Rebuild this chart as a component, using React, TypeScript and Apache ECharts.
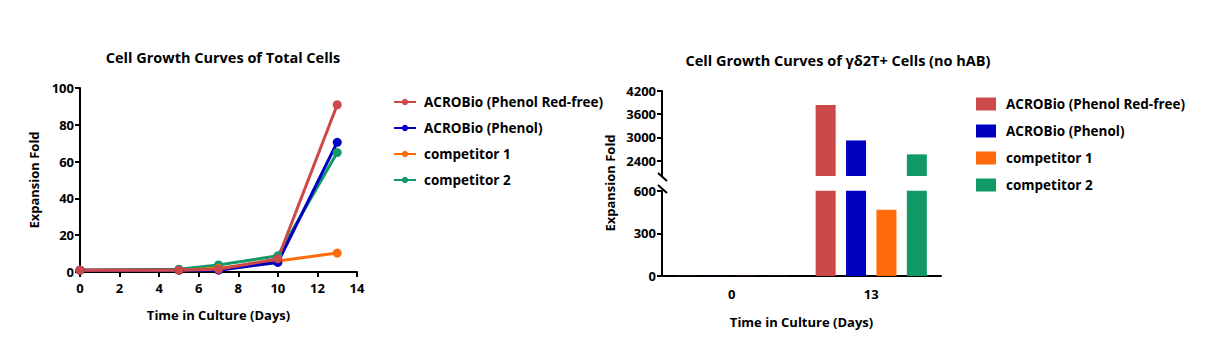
import React, { useEffect, useRef } from "react";
import * as echarts from "echarts";

const seriesNames = ["ACROBio (Phenol Red-free)", "ACROBio (Phenol)", "competitor 1", "competitor 2"];
const colors = ["#CD4848", "#0000C0", "#FF6A0A", "#119966"];

// Left chart: total cells
const days = [0, 5, 7, 10, 13];
const redFree = [1, 1, 1.5, 7.2, 90.9];
const phenol = [1, 1, 1, 5.2, 70.5];
const comp1 = [1, 1, 2, 6, 10.3];
const comp2 = [1, 1.5, 3.8, 8.8, 64.9];
const lineValues = [redFree, phenol, comp1, comp2];

// Right chart: γδ2T+ cells
const barCategories = ["0", "13"];
const barRedFree = [1, 3840];
const barPhenol = [1, 2920];
const barComp1 = [1, 466];
const barComp2 = [1, 2560];
const barValues = [barRedFree, barPhenol, barComp1, barComp2];
const lowerMax = 600;
const upperMin = 2000;
const upperMax = 4200;
const upperTicks = [2400, 3000, 3600, 4200];

const FONT = "Open Sans";

export default function App() {
  const ref = useRef<HTMLDivElement>(null);
  useEffect(() => {
    const chart = echarts.init(ref.current!, null, { renderer: "svg" });
    const axisLabel = {
      color: "#000",
      fontWeight: "bold",
      fontSize: 13,
      fontFamily: FONT,
      formatter: (v: any) => String(v),
    };
    const axisLine = { lineStyle: { color: "#000", width: 2 } };
    const axisTick = { lineStyle: { color: "#000", width: 2 }, length: 5 };
    const nameStyle = { color: "#000", fontWeight: "bold", fontSize: 13, fontFamily: FONT };

    const lineSeries = [3, 2, 1, 0].map((i) => ({
      type: "line",
      name: seriesNames[i],
      xAxisIndex: 0,
      yAxisIndex: 0,
      data: days.map((d, k) => [d, lineValues[i][k]]),
      color: colors[i],
      lineStyle: { width: 3 },
      symbol: "circle",
      symbolSize: 9,
    }));

    const upperBars = [0, 1, 2, 3].map((i) => ({
      type: "bar",
      name: seriesNames[i] + " ",
      xAxisIndex: 1,
      yAxisIndex: 1,
      data: barValues[i].map((v) => (v > upperMin ? v : null)),
      color: colors[i],
      barWidth: 20,
      barGap: "52%",
    }));
    const lowerBars = [0, 1, 2, 3].map((i) => ({
      type: "bar",
      name: seriesNames[i] + " ",
      xAxisIndex: 2,
      yAxisIndex: 2,
      data: barValues[i].map((v) => Math.min(v, lowerMax)),
      color: colors[i],
      barWidth: 20,
      barGap: "52%",
    }));

    const legendText = { fontSize: 13.5, fontWeight: "bold", color: "#000", fontFamily: FONT };

    chart.setOption({
      animation: false,
      textStyle: { fontFamily: FONT },
      title: [
        {
          text: "Cell Growth Curves of Total Cells",
          left: 218,
          top: 45,
          textAlign: "center",
          textStyle: { fontSize: 14.5, fontWeight: "bold", color: "#000", fontFamily: FONT },
        },
        {
          text: "Cell Growth Curves of γδ2T+ Cells (no hAB)",
          left: 833,
          top: 48,
          textAlign: "center",
          textStyle: { fontSize: 14.5, fontWeight: "bold", color: "#000", fontFamily: FONT },
        },
      ],
      legend: [
        {
          data: seriesNames,
          orient: "vertical",
          left: 388,
          top: 90,
          itemWidth: 22,
          itemHeight: 8,
          itemGap: 12,
          textStyle: { ...legendText, padding: [0, 0, 0, 3] },
        },
        {
          data: seriesNames.map((n) => n + " "),
          orient: "vertical",
          left: 971,
          top: 92,
          itemWidth: 20,
          itemHeight: 13,
          itemGap: 13,
          icon: "rect",
          formatter: (n: string) => n.trim(),
          textStyle: { ...legendText, padding: [0, 0, 0, 5] },
        },
      ],
      grid: [
        { left: 80, right: 850, top: 88, bottom: 84 },
        { left: 662, right: 266, top: 91, bottom: 180 },
        { left: 662, right: 266, top: 190.7, bottom: 80 },
      ],
      xAxis: [
        {
          type: "value",
          gridIndex: 0,
          min: 0,
          max: 14,
          interval: 2,
          splitLine: { show: false },
          axisLine: { ...axisLine, onZero: false },
          axisTick: { ...axisTick, show: true },
          axisLabel: { ...axisLabel, margin: 9 },
          name: "Time in Culture (Days)",
          nameLocation: "middle",
          nameGap: 36,
          nameTextStyle: nameStyle,
        },
        {
          type: "category",
          gridIndex: 1,
          data: barCategories,
          show: false,
        },
        {
          type: "category",
          gridIndex: 2,
          data: barCategories,
          axisLine: axisLine,
          axisTick: { ...axisTick, alignWithLabel: true, length: 6 },
          axisLabel: { ...axisLabel, margin: 11, formatter: undefined },
          name: "Time in Culture (Days)",
          nameLocation: "middle",
          nameGap: 39,
          nameTextStyle: nameStyle,
        },
      ],
      yAxis: [
        {
          type: "value",
          gridIndex: 0,
          min: 0,
          max: 100,
          interval: 20,
          splitLine: { show: false },
          axisLine: { ...axisLine, show: true },
          axisTick: { ...axisTick, show: true },
          axisLabel: { ...axisLabel, margin: 6 },
          name: "Expansion Fold",
          nameLocation: "middle",
          nameGap: 40,
          nameTextStyle: nameStyle,
        },
        {
          type: "value",
          gridIndex: 1,
          min: upperMin,
          max: upperMax,
          splitLine: { show: false },
          axisLine: { ...axisLine, show: true },
          axisTick: { ...axisTick, show: true, customValues: upperTicks },
          axisLabel: { ...axisLabel, margin: 6, customValues: upperTicks },
        },
        {
          type: "value",
          gridIndex: 2,
          min: 0,
          max: lowerMax,
          interval: 300,
          splitLine: { show: false },
          axisLine: { ...axisLine, show: true },
          axisTick: { ...axisTick, show: true },
          axisLabel: { ...axisLabel, margin: 6 },
        },
      ],
      graphic: [
        {
          type: "line",
          shape: { x1: 658, y1: 173, x2: 667, y2: 181 },
          style: { stroke: "#000", lineWidth: 2 },
        },
        {
          type: "line",
          shape: { x1: 658, y1: 185, x2: 667, y2: 193 },
          style: { stroke: "#000", lineWidth: 2 },
        },
        {
          type: "text",
          x: 610,
          y: 183,
          rotation: Math.PI / 2,
          style: {
            text: "Expansion Fold",
            fill: "#000",
            font: `bold 13px "${FONT}"`,
            textAlign: "center",
            textVerticalAlign: "middle",
          },
        },
      ],
      series: [...lineSeries, ...upperBars, ...lowerBars],
    });
    return () => chart.dispose();
  }, []);
  return <div ref={ref} style={{ position: "absolute", left: 0, top: 0, width: 1207, height: 356 }} />;
}
